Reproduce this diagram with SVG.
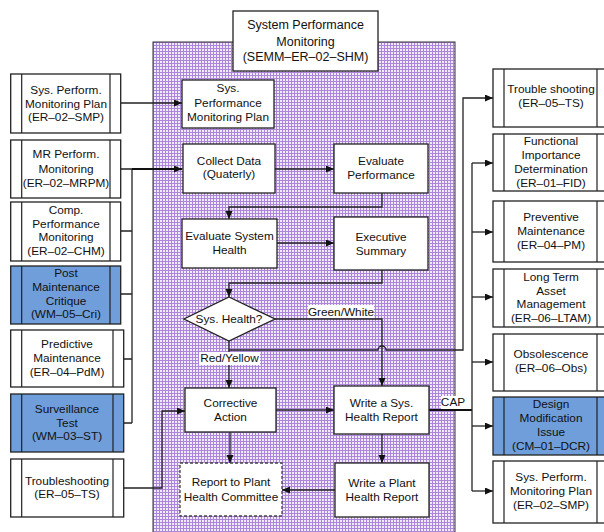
<svg xmlns="http://www.w3.org/2000/svg" width="604" height="532" viewBox="0 0 604 532">
<style>
text{font-family:"Liberation Sans",Arial,sans-serif;font-size:11.8px;fill:#111;text-anchor:middle}
.t{font-size:12.5px}
.box{fill:#fff;stroke:#222;stroke-width:1.3}
.blue{fill:#6f9edb;stroke:#222;stroke-width:1.3}
.in{stroke:#222;stroke-width:1.2;fill:none}
.c{fill:none;stroke:#222;stroke-width:1.3}
.thick{fill:none;stroke:#111;stroke-width:2.2}
.lbl{fill:#fff}
.dash{fill:#fff;stroke:#444;stroke-width:1.3;stroke-dasharray:3,2}
</style>
<defs>
<pattern id="grid" width="3" height="3" patternUnits="userSpaceOnUse">
<rect width="3" height="3" fill="#f1ebf9"/>
<path d="M0,0.5H3M0.5,0V3" stroke="#ab86da" stroke-width="1"/>
</pattern>
<marker id="ar" markerWidth="9" markerHeight="8" refX="8" refY="3.5" orient="auto" markerUnits="userSpaceOnUse">
<path d="M0,0L8,3.5L0,7z" fill="#111"/>
</marker>
</defs>
<rect x="0" y="0" width="604" height="532" fill="#fff"/>
<rect id="area" x="153" y="42" width="302" height="492" fill="url(#grid)" stroke="#333" stroke-width="1"/>

<g id="connectors">
<path class="c" d="M121,103H182" marker-end="url(#ar)"/>
<path class="c" d="M121,169H132M121,231H132M121,294H132M124,359H132M124,423H132M132,169V423"/>
<path class="thick" d="M132,169H182" marker-end="url(#ar)"/>
<path class="c" d="M124,488H162V411H185" marker-end="url(#ar)"/>
<path class="c" d="M275,169H334" marker-end="url(#ar)"/>
<path class="c" d="M382,193V207H229V219" marker-end="url(#ar)"/>
<path class="c" d="M277,243H334" marker-end="url(#ar)"/>
<path class="c" d="M382,270V283H229V297" marker-end="url(#ar)"/>
<path class="c" d="M275,319H382V386" marker-end="url(#ar)"/>
<path class="c" d="M229,341V388" marker-end="url(#ar)"/>
<path class="c" d="M229,350H378A4,4 0 0 1 386,350H463V98H493" marker-end="url(#ar)"/>
<path class="c" d="M276,410H334" marker-end="url(#ar)"/>
<path class="c" d="M230,432V463" marker-end="url(#ar)"/>
<path class="c" d="M382,434V463" marker-end="url(#ar)"/>
<path class="c" d="M335,490H282" marker-end="url(#ar)"/>
<path class="thick" d="M429,410H472"/>
<path class="c" d="M472,163V491"/>
<path class="c" d="M472,163H493" marker-end="url(#ar)"/>
<path class="c" d="M472,232H493" marker-end="url(#ar)"/>
<path class="c" d="M472,297H493" marker-end="url(#ar)"/>
<path class="c" d="M472,362H493" marker-end="url(#ar)"/>
<path class="c" d="M472,426H493" marker-end="url(#ar)"/>
<path class="c" d="M472,491H493" marker-end="url(#ar)"/>
<rect class="lbl" x="308" y="305" width="66" height="13"/>
<text x="341" y="316">Green/White</text>
<rect class="lbl" x="199" y="352" width="61" height="13"/>
<text x="229.5" y="362">Red/Yellow</text>
<rect class="lbl" x="441" y="396" width="24" height="13"/>
<text x="453" y="406">CAP</text>
</g>

<g id="title">
<rect class="box" x="233" y="11" width="145" height="60"/>
<text class="t" x="305.5" y="29">System Performance</text>
<text class="t" x="305.5" y="46">Monitoring</text>
<text class="t" x="305.5" y="61">(SEMM–ER–02–SHM)</text>
</g>

<g id="l1">
<rect class="box" x="10.7" y="74" width="110" height="59"/>
<path class="in" d="M21.7,74V133M110,74V133"/>
<text x="66" y="94">Sys. Perform.</text>
<text x="66" y="107.5">Monitoring Plan</text>
<text x="66" y="121">(ER–02–SMP)</text>
</g>
<g id="l2">
<rect class="box" x="10.7" y="140" width="110" height="58"/>
<path class="in" d="M21.7,140V198M110,140V198"/>
<text x="66" y="158">MR Perform.</text>
<text x="66" y="172.5">Monitoring</text>
<text x="66" y="187">(ER–02–MRPM)</text>
</g>
<g id="l3">
<rect class="box" x="10.7" y="202" width="110" height="59"/>
<path class="in" d="M21.7,202V261M110,202V261"/>
<text x="66" y="214">Comp.</text>
<text x="66" y="227.5">Performance</text>
<text x="66" y="241">Monitoring</text>
<text x="66" y="255">(ER–02–CHM)</text>
</g>
<g id="l4">
<rect class="blue" x="10.7" y="266" width="110" height="58"/>
<path class="in" d="M21.7,266V324M110,266V324"/>
<text x="66" y="277">Post</text>
<text x="66" y="291">Maintenance</text>
<text x="66" y="305">Critique</text>
<text x="66" y="318">(WM–05–Cri)</text>
</g>
<g id="l5">
<rect class="box" x="10.7" y="330" width="113" height="57"/>
<path class="in" d="M21.7,330V387M113,330V387"/>
<text x="67" y="348">Predictive</text>
<text x="67" y="362">Maintenance</text>
<text x="67" y="376">(ER–04–PdM)</text>
</g>
<g id="l6">
<rect class="blue" x="10.7" y="394" width="113" height="58"/>
<path class="in" d="M21.7,394V452M113,394V452"/>
<text x="67" y="413">Surveillance</text>
<text x="67" y="427">Test</text>
<text x="67" y="440">(WM–03–ST)</text>
</g>
<g id="l7">
<rect class="box" x="10.7" y="459" width="113" height="58"/>
<path class="in" d="M21.7,459V517M113,459V517"/>
<text x="67" y="485">Troubleshooting</text>
<text x="67" y="498">(ER–05–TS)</text>
</g>

<g id="smp">
<rect class="box" x="182" y="80" width="92" height="48"/>
<text x="228" y="92">Sys.</text>
<text x="228" y="107">Performance</text>
<text x="228" y="121">Monitoring Plan</text>
</g>
<g id="collect">
<rect class="box" x="183" y="144" width="92" height="49"/>
<text x="229" y="165">Collect Data</text>
<text x="229" y="178">(Quaterly)</text>
</g>
<g id="evalperf">
<rect class="box" x="334" y="144" width="94" height="49"/>
<text x="381" y="165">Evaluate</text>
<text x="381" y="178.5">Performance</text>
</g>
<g id="evalhealth">
<rect class="box" x="182" y="219" width="95" height="49"/>
<text x="229.5" y="240">Evaluate System</text>
<text x="229.5" y="253.5">Health</text>
</g>
<g id="exec">
<rect class="box" x="334" y="217" width="94" height="53"/>
<text x="381" y="241">Executive</text>
<text x="381" y="254.5">Summary</text>
</g>
<g id="decision">
<path class="box" d="M229,297L275,319L229,341L184,319z"/>
<text x="229" y="323">Sys. Health?</text>
</g>
<g id="corrective">
<rect class="box" x="185" y="388" width="91" height="44"/>
<text x="230.5" y="407">Corrective</text>
<text x="230.5" y="421">Action</text>
</g>
<g id="sysreport">
<rect class="box" x="334" y="386" width="95" height="48"/>
<text x="381.5" y="407">Write a Sys.</text>
<text x="381.5" y="420.5">Health Report</text>
</g>
<g id="committee">
<rect class="dash" x="180" y="463" width="102" height="53"/>
<text x="231" y="486">Report to Plant</text>
<text x="231" y="501">Health Committee</text>
</g>
<g id="plantreport">
<rect class="box" x="335" y="463" width="94" height="54"/>
<text x="382" y="487">Write a Plant</text>
<text x="382" y="500.5">Health Report</text>
</g>

<g id="r1">
<rect class="box" x="493" y="69" width="115" height="58"/>
<path class="in" d="M504,69V127M597,69V127"/>
<text x="551" y="93">Trouble shooting</text>
<text x="551" y="106.5">(ER–05–TS)</text>
</g>
<g id="r2">
<rect class="box" x="493" y="134" width="115" height="57"/>
<path class="in" d="M504,134V191M597,134V191"/>
<text x="551" y="145">Functional</text>
<text x="551" y="159">Importance</text>
<text x="551" y="173">Determination</text>
<text x="551" y="187">(ER–01–FID)</text>
</g>
<g id="r3">
<rect class="box" x="493" y="201" width="115" height="61"/>
<path class="in" d="M504,201V262M597,201V262"/>
<text x="551" y="221">Preventive</text>
<text x="551" y="235">Maintenance</text>
<text x="551" y="248.5">(ER–04–PM)</text>
</g>
<g id="r4">
<rect class="box" x="493" y="269" width="115" height="58"/>
<path class="in" d="M504,269V327M597,269V327"/>
<text x="551" y="281">Long Term</text>
<text x="551" y="294.5">Asset</text>
<text x="551" y="308">Management</text>
<text x="551" y="321.5">(ER–06–LTAM)</text>
</g>
<g id="r5">
<rect class="box" x="493" y="334" width="115" height="57"/>
<path class="in" d="M504,334V391M597,334V391"/>
<text x="551" y="358">Obsolescence</text>
<text x="551" y="372">(ER–06–Obs)</text>
</g>
<g id="r6">
<rect class="blue" x="493" y="397" width="115" height="58"/>
<path class="in" d="M504,397V455M597,397V455"/>
<text x="551" y="408">Design</text>
<text x="551" y="422">Modification</text>
<text x="551" y="436">Issue</text>
<text x="551" y="450">(CM–01–DCR)</text>
</g>
<g id="r7">
<rect class="box" x="493" y="461" width="115" height="62"/>
<path class="in" d="M504,461V523M597,461V523"/>
<text x="551" y="481">Sys. Perform.</text>
<text x="551" y="495">Monitoring Plan</text>
<text x="551" y="508.5">(ER–02–SMP)</text>
</g>
</svg>
